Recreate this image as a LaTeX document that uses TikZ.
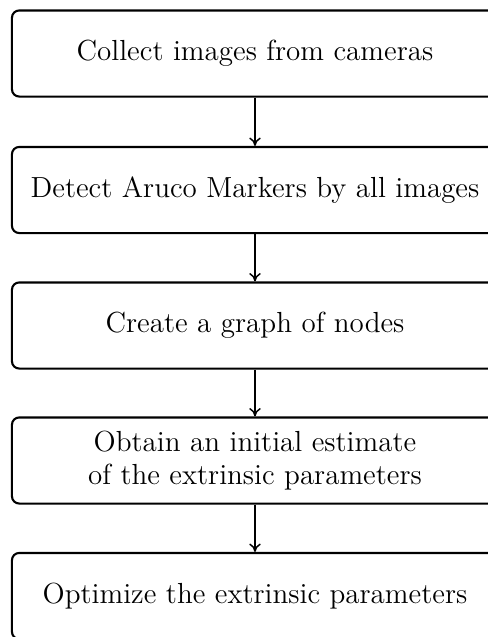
\documentclass[tikz,border=0pt]{standalone}
\usetikzlibrary{arrows.meta}

\tikzset{
  stepbox/.style={draw, line width=1pt, rounded corners=3.5pt,
    minimum width=232.6pt, minimum height=41.2pt, inner sep=0pt,
    align=center, fill=white, font=\fontsize{13.9pt}{15.6pt}\selectfont},
  flow/.style={-{To[length=4pt,width=5.5pt]}, line width=0.7pt}
}

\begin{document}
\begin{tikzpicture}[x=0.4785pt, y=-0.4785pt]
  \clip (0,0) rectangle (488,637);
  \useasboundingbox (0,0) rectangle (488,637);

  \node[stepbox] (s1) at (255,53.5) {Collect images from cameras};
  \node[stepbox] (s2) at (255,190) {Detect Aruco Markers by all images};
  \node[stepbox] (s3) at (255,325.5) {Create a graph of nodes};
  \node[stepbox] (s4) at (255,460.5) {Obtain an initial estimate\\of the extrinsic parameters};
  \node[stepbox] (s5) at (255,596) {Optimize the extrinsic parameters};

  \draw[flow] (s1) -- (s2);
  \draw[flow] (s2) -- (s3);
  \draw[flow] (s3) -- (s4);
  \draw[flow] (s4) -- (s5);
\end{tikzpicture}
\end{document}
